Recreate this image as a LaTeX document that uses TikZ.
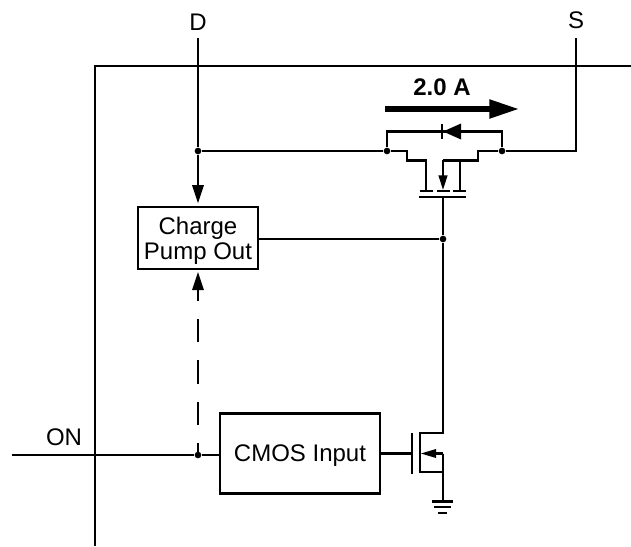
\documentclass[tikz,border=0pt]{standalone}
\usepackage{fontspec}
\setmainfont{Liberation Sans}
\usetikzlibrary{arrows.meta}

\begin{document}
\begin{tikzpicture}[x=0.75pt, y=-0.75pt, line width=1.65pt,
    every node/.style={font=\fontsize{18}{18.75}\selectfont},
    block/.style={draw, fill=white, align=center, inner sep=0pt, text depth=0pt},
    dot/.style={circle, fill=black, inner sep=0pt, minimum size=5pt},
    sig/.style={-{Triangle[length=13.5pt, width=8.5pt]}},
    small/.style={-{Triangle[length=11pt, width=6.5pt]}}]
    \useasboundingbox (0, 0) rectangle (631, 546);

    % chip outline
    \coordinate (frameTR) at (631, 66);
    \coordinate (frameTL) at (95, 66);
    \coordinate (frameB) at (95, 546);
    \draw[] (frameTR) -- (frameTL) -- (frameB);

    % pins
    \node[] (pinD) at (198, 22) {D};
    \node[] (pinS) at (576, 20) {S};
    \node[] (pinON) at (64, 437) {ON};
    \node[font=\fontsize{18}{18.75}\selectfont\bfseries] (current) at (442, 87) {2.0 A};

    % blocks
    \node[block, minimum width=90pt, minimum height=46.5pt] (pump) at (198, 238) {Charge\\Pump Out};
    \node[block, minimum width=120pt, minimum height=60pt] (cmos) at (300, 453.5) {CMOS Input};

    % junctions
    \node[dot] (jD) at (198, 151) {};
    \node[dot] (jL) at (387, 151) {};
    \node[dot] (jR) at (502, 151) {};
    \node[dot] (jG) at (443, 239) {};
    \node[dot] (jON) at (198, 455) {};

    % free ends
    \coordinate (topD) at (198, 38);
    \coordinate (topS) at (576, 38);
    \coordinate (cornerS) at (576, 151);
    \coordinate (inON) at (12, 455);

    % drain, source and gate wiring
    \draw[] (topD) -- (jD);
    \draw[sig, shorten >=2pt] (jD) -- (pump.north);
    \draw[] (jD) -- (jL);
    \draw[] (jR) -- (cornerS) -- (topS);
    \draw[] (pump.east |- jG) -- (jG);
    \draw[] (inON) -- (jON) -- (jON -| cmos.west);
    \draw[sig, dash pattern=on 17.6pt off 13.5pt, dash phase=8.6pt] (jON.center) -- ++(0, -183);

    % current arrow
    \coordinate (flowA) at (385, 109);
    \coordinate (flowB) at (520, 109);
    \draw[line width=5pt, -{Triangle[length=23pt, width=13pt]}] (flowA) -- (flowB);

    % diode across the switch
    \draw[] (jL) |- (442, 131.5);
    \draw[] (jR) |- (442, 131.5);
    \fill[] (443, 131.5) -- (461, 123.5) -- (461, 139.5) -- cycle;
    \draw[] (442, 124) -- (442, 139);

    % switch
    \draw[] (jL) -- (407, 151) -- (407, 160.5) -- (426, 160.5) -- (426, 191);
    \draw[] (jR) -- (478, 151) -- (478, 160.5) -- (443, 160.5);
    \draw[small] (443, 160) -- (443, 190);
    \draw[] (460, 160.5) -- (460, 191);
    \draw[] (420, 191) -- (433, 191);
    \draw[] (437, 191) -- (450, 191);
    \draw[] (453, 191) -- (466, 191);
    \draw[] (419, 197) -- (466, 197);
    \draw[] (443, 197) -- (jG);

    % output transistor
    \draw[] (jG) -- (443, 433) -- (420, 433);
    \draw[] (420, 432) -- (420, 473);
    \draw[] (412, 433) -- (412, 474);
    \draw[] (cmos.east |- 0, 453.5) -- (412, 453.5);
    \draw[] (420, 472) -- (443, 472);
    \draw[] (443, 453.5) -- (443, 501.5);
    \draw[] (443, 453.5) -- (435, 453.5);
    \fill[] (421, 453.5) -- (436, 449) -- (436, 458) -- cycle;

    % ground
    \draw[] (432, 501.5) -- (453, 501.5);
    \draw[] (434, 507) -- (451, 507);
    \draw[] (438, 513) -- (447, 513);
\end{tikzpicture}
\end{document}
